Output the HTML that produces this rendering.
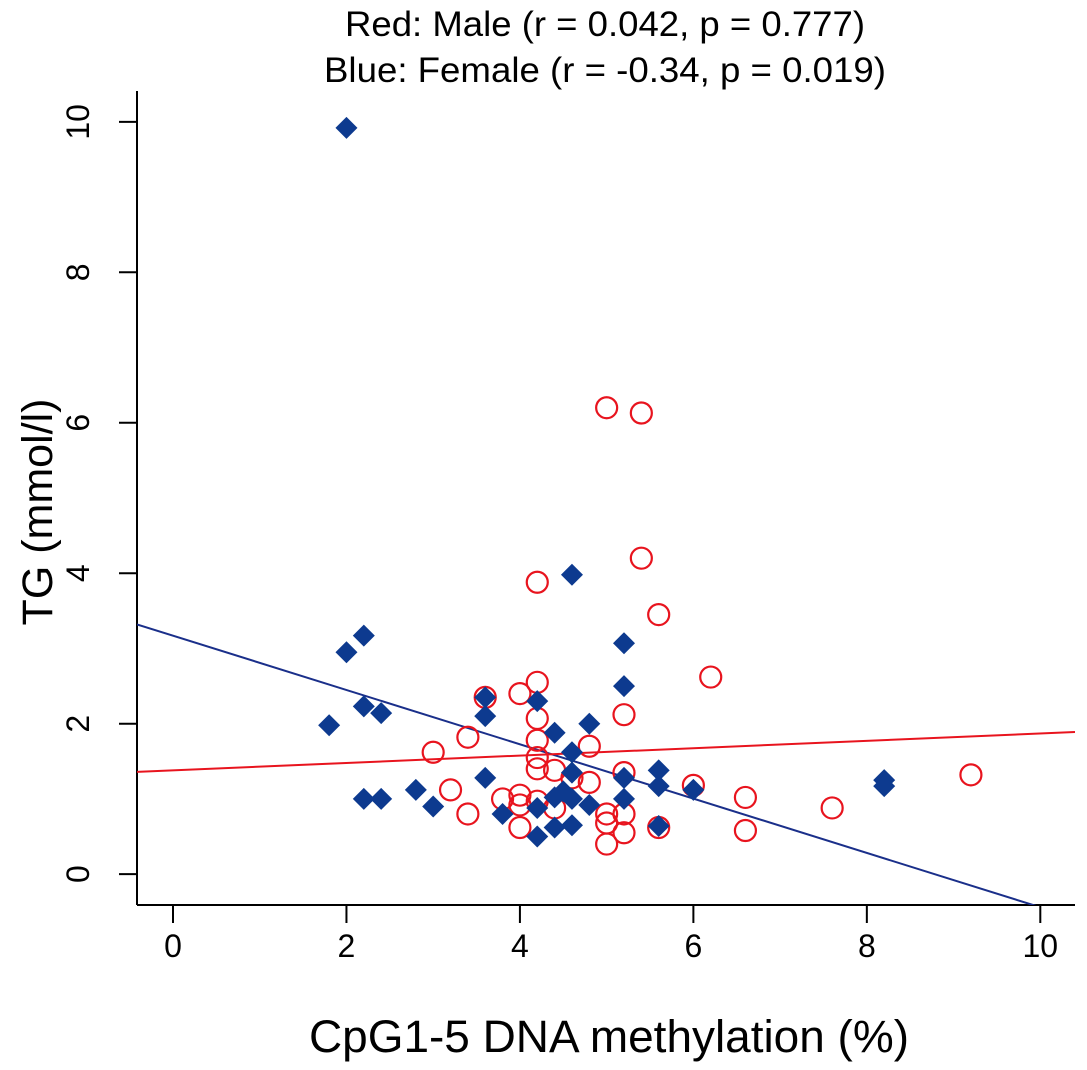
<!DOCTYPE html>
<html><head><meta charset="utf-8"><style>
html,body{margin:0;padding:0;background:#fff;}
svg{display:block;font-family:"Liberation Sans",Arial,sans-serif;}
</style></head><body>
<svg id="chart" width="1087" height="1070" viewBox="0 0 1087 1070">
<text x="605" y="36" font-size="35" text-anchor="middle" textLength="520" lengthAdjust="spacingAndGlyphs">Red: Male (r = 0.042, p = 0.777)</text>
<text x="605" y="82" font-size="35" text-anchor="middle" textLength="562" lengthAdjust="spacingAndGlyphs">Blue: Female (r = -0.34, p = 0.019)</text>
<text x="609" y="1052" font-size="45" text-anchor="middle" textLength="600" lengthAdjust="spacingAndGlyphs">CpG1-5 DNA methylation (%)</text>
<text transform="translate(52,512) rotate(-90)" font-size="43" text-anchor="middle">TG (mmol/l)</text>
<g id="axes"></g>
<g id="lines"></g>
<g id="pts"></g>
</svg>
<script>
const xTicks=[0,2,4,6,8,10];
const yTicks=[0,2,4,6,8,10];
const maleX=[5.0,5.4,5.4,4.2,5.6,6.2,3.6,4.0,4.2,4.2,5.2,3.4,3.0,4.2,4.2,4.2,4.8,4.4,4.6,4.8,5.2,3.2,3.4,4.0,4.0,4.0,3.8,4.2,4.4,5.0,5.0,5.0,5.2,5.2,5.6,6.0,6.6,6.6,7.6,9.2];
const maleY=[6.2,6.13,4.2,3.88,3.45,2.62,2.35,2.4,2.55,2.07,2.12,1.82,1.62,1.78,1.55,1.4,1.7,1.38,1.28,1.22,1.35,1.12,0.8,1.05,0.92,0.62,1.0,0.97,0.88,0.8,0.68,0.4,0.55,0.8,0.62,1.18,1.02,0.58,0.88,1.32];
const femaleX=[2.0,4.6,2.2,2.0,5.2,5.2,3.6,3.6,4.2,1.8,2.2,2.4,4.4,4.8,4.6,4.6,3.6,5.2,5.6,5.6,6.0,8.2,8.2,2.8,2.2,2.4,3.0,3.8,4.2,4.4,4.4,4.6,4.6,4.8,5.2,4.2,5.6,4.5];
const femaleY=[9.92,3.98,3.17,2.95,3.07,2.5,2.35,2.1,2.3,1.98,2.23,2.14,1.88,2.0,1.62,1.35,1.28,1.28,1.38,1.17,1.12,1.25,1.17,1.12,1.0,1.0,0.9,0.8,0.88,1.02,0.62,1.0,0.65,0.92,1.0,0.5,0.64,1.1];
const maleFit=[1.38,0.049];
const femaleFit=[3.17,-0.361];
const X0=-0.415,X1=10.4,Y0=-0.41,Y1=10.41;
const L=137,R=1075,T=91,B=905;
const sx=v=>L+(v-X0)/(X1-X0)*(R-L);
const sy=v=>B-(v-Y0)/(Y1-Y0)*(B-T);
const NS='http://www.w3.org/2000/svg';
function mk(t,a,p){const e=document.createElementNS(NS,t);for(const k in a)e.setAttribute(k,a[k]);p.appendChild(e);return e;}
const ax=document.getElementById('axes');
let e=mk('line',{x1:L,y1:T,x2:L,y2:B,stroke:'#000','stroke-width':2},ax);


e=mk('line',{x1:L,y1:B,x2:R,y2:B,stroke:'#000','stroke-width':2},ax);


xTicks.forEach(v=>{
 const t=mk('line',{x1:sx(v),y1:B,x2:sx(v),y2:B+18,stroke:'#000','stroke-width':2},ax);
 
 
 const l=mk('text',{x:sx(v),y:B+52,'font-size':32,'text-anchor':'middle'},ax);l.textContent=v;
 
 
});
yTicks.forEach(v=>{
 const t=mk('line',{x1:L-18,y1:sy(v),x2:L,y2:sy(v),stroke:'#000','stroke-width':2},ax);
 
 
 const l=mk('text',{transform:`translate(89,${sy(v)}) rotate(-90)`,'font-size':32,'text-anchor':'middle'},ax);l.textContent=v;
 
 
});
const ln=document.getElementById('lines');
mk('clipPath',{id:'cp'},ln).appendChild(document.createElementNS(NS,'rect'));
const cr=ln.querySelector('rect');cr.setAttribute('x',L);cr.setAttribute('y',T);cr.setAttribute('width',R-L);cr.setAttribute('height',B-T);
[[femaleFit,'#1a2f8a','female-fit-line'],[maleFit,'#e8141e','male-fit-line']].forEach(([f,c,n])=>{
 const l=mk('line',{x1:sx(X0),y1:sy(f[0]+f[1]*X0),x2:sx(X1),y2:sy(f[0]+f[1]*X1),stroke:c,'stroke-width':2,'clip-path':'url(#cp)'},ln);
 
 
});
const pg=document.getElementById('pts');
maleX.forEach((x,i)=>{
 const c=mk('circle',{cx:sx(x),cy:sy(maleY[i]),r:10.5,fill:'none',stroke:'#e8141e','stroke-width':2.2},pg);
 
 
});
femaleX.forEach((x,i)=>{
 const cx=sx(x),cy=sy(femaleY[i]),d=11;
 const p=mk('polygon',{points:`${cx},${cy-d} ${cx+d},${cy} ${cx},${cy+d} ${cx-d},${cy}`,fill:'#0d3a8f'},pg);
 
 
});
</script>
</body></html>
